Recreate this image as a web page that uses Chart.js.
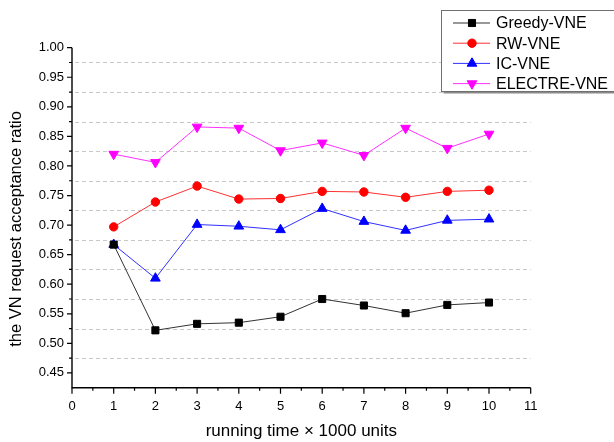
<!DOCTYPE html>
<html>
<head>
<meta charset="utf-8">
<title>VN request acceptance ratio</title>
<script src="https://cdn.jsdelivr.net/npm/chart.js@4/dist/chart.umd.min.js"></script>
<style>
  html, body { margin: 0; padding: 0; background: #fff; }
  #wrap { width: 614px; height: 442px; position: relative; }
</style>
</head>
<body>
<div id="wrap"><canvas id="ratioChart"></canvas></div>
<script>
// running time (x 1000 units)
const runTimes = [1, 2, 3, 4, 5, 6, 7, 8, 9, 10];

// acceptance ratio per algorithm
const greedyVNE = [0.667, 0.522, 0.533, 0.535, 0.545, 0.575, 0.564, 0.551, 0.565, 0.569];
const rwVNE = [0.697, 0.739, 0.766, 0.744, 0.745, 0.757, 0.756, 0.747, 0.757, 0.759];
const icVNE = [0.667, 0.610, 0.701, 0.698, 0.692, 0.728, 0.706, 0.691, 0.708, 0.710];
const electreVNE = [0.820, 0.806, 0.866, 0.864, 0.826, 0.839, 0.818, 0.864, 0.830, 0.854];

// axes
const xTicks = [0, 1, 2, 3, 4, 5, 6, 7, 8, 9, 10, 11];
const xMinorTicks = [0.5, 1.5, 2.5, 3.5, 4.5, 5.5, 6.5, 7.5, 8.5, 9.5, 10.5];
const yTicks = [0.45, 0.50, 0.55, 0.60, 0.65, 0.70, 0.75, 0.80, 0.85, 0.90, 0.95, 1.00];
const yGridLines = [0.475, 0.525, 0.575, 0.625, 0.675, 0.725, 0.775, 0.825, 0.875, 0.925, 0.975];

const FONT = '"Liberation Sans", Arial, sans-serif';

function toPoints(values) {
    return values.map((v, i) => ({ x: runTimes[i], y: v }));
}

// Origin-style axes: dashed minor grid, black axis lines, in/out tick marks
const originAxes = {
    id: 'originAxes',
    beforeDatasetsDraw(chart) {
        const { ctx, scales: { x, y } } = chart;
        const x0 = x.getPixelForValue(0);
        const x11 = x.getPixelForValue(11);
        const yBottom = y.bottom;
        const yTop = y.getPixelForValue(1.0);
        ctx.save();

        // dashed grid lines
        ctx.strokeStyle = '#c8c8c8';
        ctx.lineWidth = 1;
        ctx.setLineDash([4, 3]);
        yGridLines.forEach(v => {
            const py = Math.round(y.getPixelForValue(v)) + 0.5;
            ctx.beginPath();
            ctx.moveTo(x0 + 3, py);
            ctx.lineTo(x11, py);
            ctx.stroke();
        });
        ctx.setLineDash([]);

        // axis lines
        ctx.strokeStyle = '#000';
        ctx.lineWidth = 1.4;
        ctx.beginPath();
        ctx.moveTo(x0, yTop);
        ctx.lineTo(x0, yBottom);
        ctx.lineTo(x11, yBottom);
        ctx.stroke();

        // tick marks
        ctx.lineWidth = 1.2;
        ctx.beginPath();
        yTicks.forEach(v => {
            const py = y.getPixelForValue(v);
            ctx.moveTo(x0 - 5, py);
            ctx.lineTo(x0, py);
        });
        yGridLines.forEach(v => {
            const py = y.getPixelForValue(v);
            ctx.moveTo(x0 - 3, py);
            ctx.lineTo(x0, py);
        });
        xTicks.forEach(v => {
            const px = x.getPixelForValue(v);
            ctx.moveTo(px, yBottom);
            ctx.lineTo(px, yBottom + 6);
        });
        xMinorTicks.forEach(v => {
            const px = x.getPixelForValue(v);
            ctx.moveTo(px, yBottom);
            ctx.lineTo(px, yBottom + 3);
        });
        ctx.stroke();
        ctx.restore();
    },
    afterDraw(chart) {
        const { ctx, scales: { x, y } } = chart;
        ctx.save();
        ctx.fillStyle = '#000';

        // axis titles
        ctx.font = '17px ' + FONT;
        ctx.textAlign = 'center';
        ctx.textBaseline = 'middle';
        ctx.fillText('running time \u00d7 1000 units', (x.getPixelForValue(0) + x.getPixelForValue(11)) / 2, 431);
        ctx.translate(16, 229);
        ctx.rotate(-Math.PI / 2);
        ctx.font = '16.5px ' + FONT;
        ctx.fillText('the VN request acceptance ratio', 0, 0);
        ctx.restore();

        // legend box with shadow
        ctx.save();
        const bx = 441.5, by = 10.5, bw = 190, bh = 81;
        ctx.fillStyle = '#8a8a8a';
        ctx.fillRect(bx + 2, by + 2, bw, bh);
        ctx.fillStyle = '#fff';
        ctx.fillRect(bx, by, bw, bh);
        ctx.strokeStyle = '#707070';
        ctx.lineWidth = 1;
        ctx.strokeRect(bx, by, bw, bh);

        ctx.font = '16px ' + FONT;
        ctx.textAlign = 'left';
        ctx.textBaseline = 'middle';
        chart.data.datasets.forEach((ds, i) => {
            const ry = 23 + i * 20.2;
            ctx.strokeStyle = ds.borderColor;
            ctx.lineWidth = 1;
            ctx.beginPath();
            ctx.moveTo(453, ry);
            ctx.lineTo(490, ry);
            ctx.stroke();
            ctx.fillStyle = ds.pointBackgroundColor;
            ctx.strokeStyle = ds.pointBorderColor;
            Chart.helpers.drawPoint(ctx, {
                pointStyle: ds.pointStyle,
                rotation: ds.pointRotation || 0,
                radius: ds.pointRadius,
                borderWidth: 1
            }, 472, ry);
            ctx.fillStyle = '#000';
            ctx.fillText(ds.label, 496, ry + 1);
        });
        ctx.restore();
    }
};

const ctxRatio = document.getElementById('ratioChart').getContext('2d');
const ratioChart = new Chart(ctxRatio, {
    type: 'line',
    data: {
        datasets: [{
            label: 'Greedy-VNE',
            data: toPoints(greedyVNE),
            borderColor: '#333333',
            pointBackgroundColor: '#000000',
            pointBorderColor: '#000000',
            pointStyle: 'rect',
            pointRadius: 5,
            borderWidth: 1
        }, {
            label: 'RW-VNE',
            data: toPoints(rwVNE),
            borderColor: '#ff3030',
            pointBackgroundColor: '#ff0000',
            pointBorderColor: '#ff0000',
            pointStyle: 'circle',
            pointRadius: 4.2,
            borderWidth: 1
        }, {
            label: 'IC-VNE',
            data: toPoints(icVNE),
            borderColor: '#3030ff',
            pointBackgroundColor: '#0000ff',
            pointBorderColor: '#0000ff',
            pointStyle: 'triangle',
            pointRadius: 5.6,
            borderWidth: 1
        }, {
            label: 'ELECTRE-VNE',
            data: toPoints(electreVNE),
            borderColor: '#ff30ff',
            pointBackgroundColor: '#ff00ff',
            pointBorderColor: '#ff00ff',
            pointStyle: 'triangle',
            pointRotation: 180,
            pointRadius: 5.6,
            borderWidth: 1
        }]
    },
    options: {
        responsive: true,
        maintainAspectRatio: false,
        animation: false,
        layout: {
            padding: { top: 47.7, right: 83.3, bottom: 0, left: 0 }
        },
        plugins: {
            legend: { display: false },
            tooltip: { enabled: false }
        },
        scales: {
            x: {
                type: 'linear',
                min: 0,
                max: 11,
                afterFit: scale => { scale.height = 54.3; },
                afterBuildTicks: scale => { scale.ticks = xTicks.map(v => ({ value: v })); },
                grid: { display: false, drawTicks: false },
                border: { display: false },
                ticks: {
                    autoSkip: false,
                    maxRotation: 0,
                    padding: 11,
                    color: '#000',
                    font: { family: FONT, size: 13 },
                    callback: v => String(v)
                }
            },
            y: {
                min: 0.425,
                max: 1.0,
                afterFit: scale => { scale.width = 72; },
                afterBuildTicks: scale => { scale.ticks = yTicks.map(v => ({ value: v })); },
                grid: { display: false, drawTicks: false },
                border: { display: false },
                ticks: {
                    autoSkip: false,
                    padding: 8,
                    color: '#000',
                    font: { family: FONT, size: 13 },
                    callback: v => v.toFixed(2)
                }
            }
        }
    },
    plugins: [originAxes]
});
</script>
</body>
</html>
